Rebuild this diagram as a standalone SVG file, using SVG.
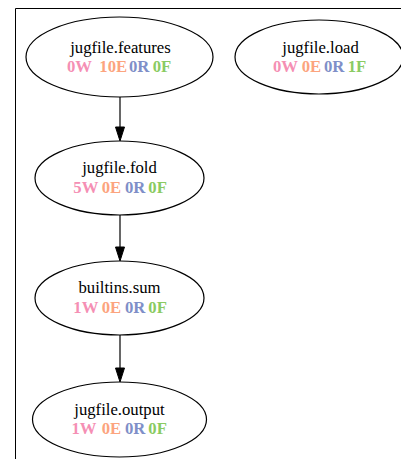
<svg xmlns="http://www.w3.org/2000/svg" width="401" height="459" viewBox="0 0 401 459">
<style>
.node ellipse{fill:none;stroke:#000;stroke-width:1.2}
.t1{font-family:"Liberation Serif",serif;font-size:16.7px;fill:#000;text-anchor:middle}
.t2{font-family:"Liberation Serif",serif;font-size:16.7px;font-weight:bold}
.w{fill:#f58fb4}.e{fill:#fca47e}.r{fill:#7f8fc8}.f{fill:#8acb62}
.edge line{stroke:#000;stroke-width:1.2}
.edge polygon{fill:#000;stroke:#000;stroke-width:1}
</style>
<rect width="401" height="459" fill="#fff"/>
<path d="M15.5,459 V8.5 H401" fill="none" stroke="#000" stroke-width="1"/>
<g id="edges" class="edge">
<line x1="120" y1="97" x2="120" y2="127"/><polygon points="115.5,127 124.5,127 120,141"/>
<line x1="120" y1="215" x2="120" y2="247"/><polygon points="115.5,247 124.5,247 120,261"/>
<line x1="120" y1="335" x2="120" y2="368"/><polygon points="115.5,368 124.5,368 120,382"/>
</g>
<g id="n_features" class="node">
<ellipse cx="119.5" cy="57" rx="93.5" ry="40"/>
<text class="t1" x="120.5" y="53">jugfile.features</text>
<text class="t2" y="72"><tspan class="w" x="67">0W</tspan><tspan class="e" x="99.3">10E</tspan><tspan class="r" x="129">0R</tspan><tspan class="f" x="152.7">0F</tspan></text>
</g>
<g id="n_load" class="node">
<ellipse cx="319" cy="57" rx="84" ry="37"/>
<text class="t1" x="320.5" y="53">jugfile.load</text>
<text class="t2" y="72"><tspan class="w" x="273">0W</tspan><tspan class="e" x="301.7">0E</tspan><tspan class="r" x="324">0R</tspan><tspan class="f" x="347.7">1F</tspan></text>
</g>
<g id="n_fold" class="node">
<ellipse cx="119.5" cy="178" rx="84.5" ry="37"/>
<text class="t1" x="119.5" y="173">jugfile.fold</text>
<text class="t2" y="192.7"><tspan class="w" x="73.3">5W</tspan><tspan class="e" x="101.7">0E</tspan><tspan class="r" x="125">0R</tspan><tspan class="f" x="148.3">0F</tspan></text>
</g>
<g id="n_sum" class="node">
<ellipse cx="119.5" cy="298" rx="84.5" ry="37"/>
<text class="t1" x="119.5" y="293.3">builtins.sum</text>
<text class="t2" y="312.7"><tspan class="w" x="73.3">1W</tspan><tspan class="e" x="101.7">0E</tspan><tspan class="r" x="125">0R</tspan><tspan class="f" x="148.3">0F</tspan></text>
</g>
<g id="n_output" class="node">
<ellipse cx="119.5" cy="419.5" rx="87" ry="37.5"/>
<text class="t1" x="119.5" y="414.5">jugfile.output</text>
<text class="t2" y="434"><tspan class="w" x="71.5">1W</tspan><tspan class="e" x="101.7">0E</tspan><tspan class="r" x="125">0R</tspan><tspan class="f" x="148.3">0F</tspan></text>
</g>
</svg>
